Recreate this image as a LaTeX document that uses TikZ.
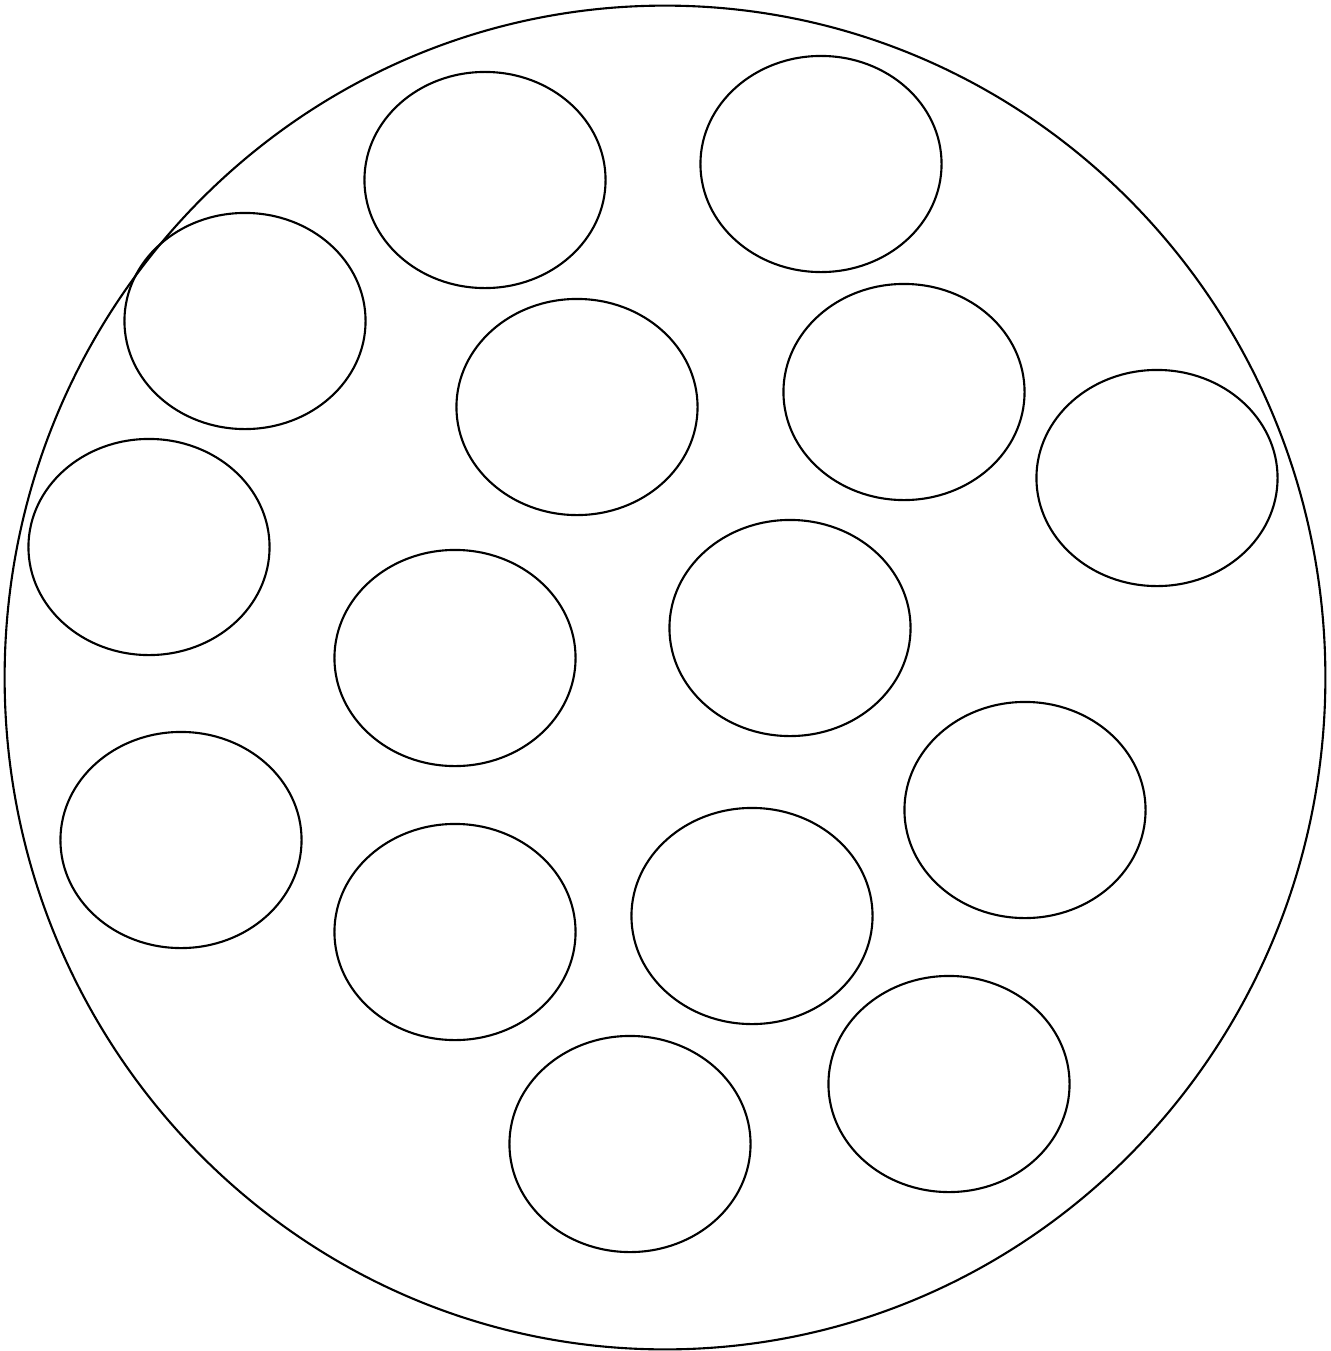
\documentclass[tikz,border=0pt]{standalone}
\usepackage{tikz}
\usetikzlibrary{shapes.geometric}

\begin{document}
\begin{tikzpicture}[x=0.01cm, y=-0.01cm,
    cell/.style={draw, ellipse, line width=0.6pt, inner sep=0pt, outer sep=0pt,
                 minimum width=2.41cm, minimum height=2.16cm}]
    \useasboundingbox (0, 0) rectangle (1331, 1351);

    % 外圆
    \coordinate (O) at (665, 677.5);
    \draw[line width=0.6pt] (O) ellipse [x radius=6.60cm, y radius=6.715cm];

    % 小椭圆
    \node[cell] (c1)  at (485, 180)  {};
    \node[cell] (c2)  at (821, 164)  {};
    \node[cell] (c3)  at (245, 321)  {};
    \node[cell] (c4)  at (577, 407)  {};
    \node[cell] (c5)  at (904, 392)  {};
    \node[cell] (c6)  at (1157, 478) {};
    \node[cell] (c7)  at (149, 547)  {};
    \node[cell] (c8)  at (455, 658)  {};
    \node[cell] (c9)  at (790, 628)  {};
    \node[cell] (c10) at (1025, 810) {};
    \node[cell] (c11) at (181, 840)  {};
    \node[cell] (c12) at (455, 932)  {};
    \node[cell] (c13) at (752, 916)  {};
    \node[cell] (c14) at (949, 1084) {};
    \node[cell] (c15) at (630, 1144) {};
\end{tikzpicture}
\end{document}
